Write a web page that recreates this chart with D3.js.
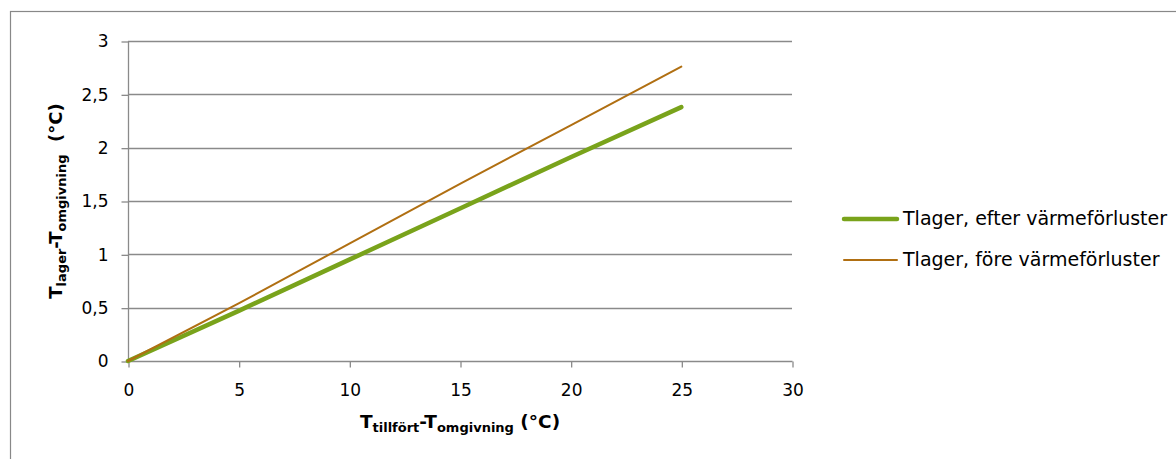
<!DOCTYPE html>
<html><head><meta charset="utf-8">
<script src="https://cdn.jsdelivr.net/npm/d3@7"></script>
<style>body{margin:0;background:#fff}svg{display:block}</style>
</head><body>
<script>
const xValues = [0, 5, 10, 15, 20, 25];
const efterValues = [0.0, 0.47, 0.95, 1.43, 1.91, 2.38];
const foreValues = [0.0, 0.54, 1.10, 1.66, 2.21, 2.76];
const seriesNames = ["Tlager, efter värmeförluster", "Tlager, före värmeförluster"];
const xTicks = [0, 5, 10, 15, 20, 25, 30];
const yTicks = [0, 0.5, 1, 1.5, 2, 2.5, 3];

const W = 1176, H = 459;
const font = "DejaVu Sans, Verdana, sans-serif";
const svg = d3.select("body").append("svg").attr("width", W).attr("height", H);

svg.append("rect").attr("x", 10.5).attr("y", 11.5).attr("width", 1300).attr("height", 600)
  .attr("fill", "#fff").attr("stroke", "#888").attr("stroke-width", 1.2);

const x = d3.scaleLinear().domain([0, 30]).range([128, 792]);
const y = d3.scaleLinear().domain([0, 3]).range([361, 41]);
const fmt = d => String(d).replace(".", ",");

// grid
svg.append("g").selectAll("line").data(yTicks.filter(d => d > 0)).join("line")
  .attr("x1", x(0)).attr("x2", x(30))
  .attr("y1", d => Math.round(y(d)) + 0.5).attr("y2", d => Math.round(y(d)) + 0.5)
  .attr("stroke", "#8a8a8a").attr("stroke-width", 1.3);

// y axis
const ya = svg.append("g").attr("transform", `translate(${x(0) + 0.5},0.5)`)
  .call(d3.axisLeft(y).tickValues(yTicks).tickFormat(fmt).tickSize(7).tickPadding(13));
// x axis
const xa = svg.append("g").attr("transform", `translate(0.5,${y(0) + 0.5})`)
  .call(d3.axisBottom(x).tickValues(xTicks).tickFormat(fmt).tickSize(6).tickPadding(16));
[ya, xa].forEach(a => {
  a.select(".domain").attr("stroke", "#8a8a8a").attr("stroke-width", 1.3);
  a.selectAll(".tick line").attr("stroke", "#8a8a8a").attr("stroke-width", 1.3);
  a.selectAll("text").attr("font-family", font).attr("font-size", 17).attr("fill", "#000");
});
ya.select(".domain").attr("d", `M0,${y(3)}V${y(0)}`);
xa.select(".domain").attr("d", `M${x(0)},0H${x(30)}`);

const line = d3.line().x(d => x(d[0])).y(d => y(d[1]));
const colors = ["#79a31b", "#b06f12"];
const widths = [4.5, 2];
[efterValues, foreValues].forEach((vals, i) => {
  svg.append("path").datum(xValues.map((xv, j) => [xv, vals[j]]))
    .attr("d", line).attr("fill", "none").attr("stroke", colors[i])
    .attr("stroke-width", widths[i]).attr("stroke-linecap", "round").attr("stroke-linejoin", "round");
});

// legend
seriesNames.forEach((n, i) => {
  const ly = 219 + i * 41;
  svg.append("line").attr("x1", 844).attr("x2", 897).attr("y1", ly).attr("y2", ly)
    .attr("stroke", colors[i]).attr("stroke-width", widths[i]).attr("stroke-linecap", "round");
  svg.append("text").attr("x", 903).attr("y", ly + 6).text(n)
    .attr("font-family", font).attr("font-size", 19).attr("fill", "#000");
});

// x title
const xt = svg.append("text").attr("x", x(15)).attr("y", 428).attr("text-anchor", "middle")
  .attr("font-family", font).attr("font-weight", "bold").attr("font-size", 18.5).attr("fill", "#000");
xt.append("tspan").text("T");
xt.append("tspan").text("tillfört").attr("font-size", 13).attr("dy", 4);
xt.append("tspan").text("-T").attr("dy", -4);
xt.append("tspan").text("omgivning").attr("font-size", 13).attr("dy", 4);
xt.append("tspan").text(" (°C)").attr("dy", -4);

// y title
const yt = svg.append("text").attr("transform", `translate(62,${y(1.5)}) rotate(-90)`)
  .attr("text-anchor", "middle")
  .attr("font-family", font).attr("font-weight", "bold").attr("font-size", 18).attr("fill", "#000");
yt.append("tspan").text("T");
yt.append("tspan").text("lager").attr("font-size", 13).attr("dy", 4);
yt.append("tspan").text("-T").attr("dy", -4);
yt.append("tspan").text("omgivning").attr("font-size", 13).attr("dy", 4);
yt.append("tspan").text("\u00a0\u00a0(°C)").attr("dy", -4);
</script>
</body></html>
